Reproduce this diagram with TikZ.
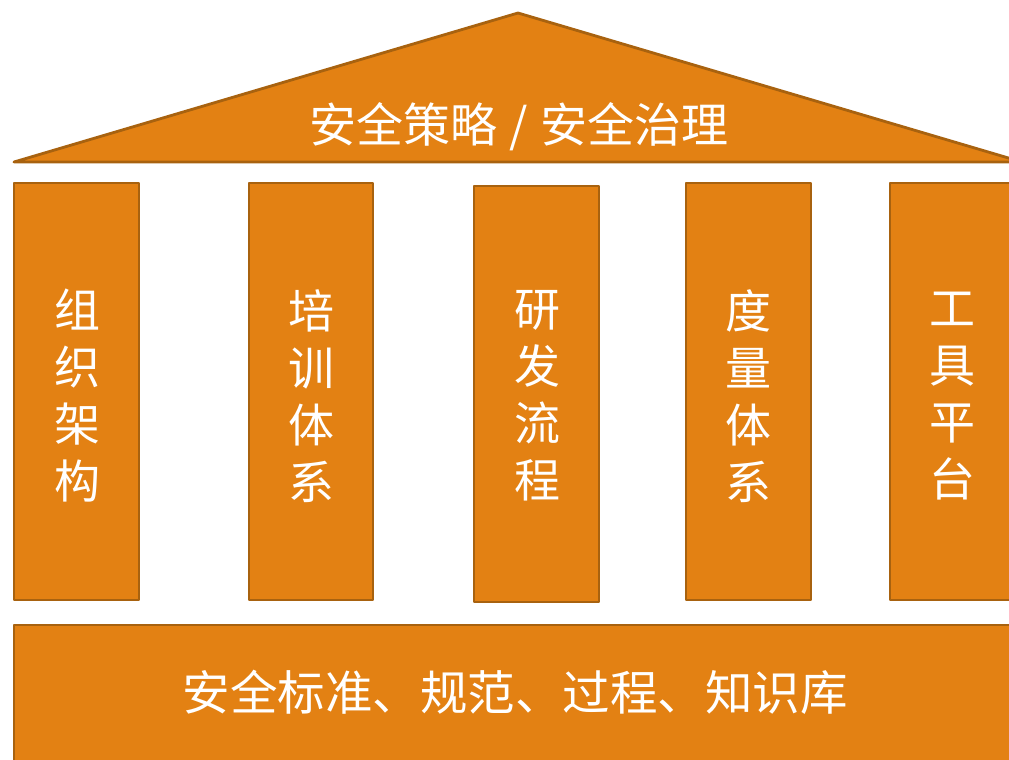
\documentclass[tikz,border=0pt]{standalone}
\usepackage{fontspec}
\newfontfamily\cjk{Noto Sans CJK SC}
\definecolor{fillor}{HTML}{E38113}
\definecolor{edgeor}{HTML}{A8620F}
\begin{document}
\begin{tikzpicture}[x=1pt,y=-1pt,
  part/.style={fill=fillor,draw=edgeor,line width=2.8pt,line join=round},
  lbl/.style={text=white,font=\cjk\fontsize{46}{57}\selectfont,inner sep=0pt,align=center}]
\useasboundingbox (0,0) rectangle (1009,760);
\begin{scope}
\clip (0,0) rectangle (1009,760);
\draw[part] (14,162) -- (518,13) -- (1022,162) -- cycle;
\draw[part] (14,183) rectangle (139,600);
\draw[part] (249,183) rectangle (373,600);
\draw[part] (474,186) rectangle (599,602);
\draw[part] (686,183) rectangle (811,600);
\draw[part] (890,183) rectangle (1015,600);
\draw[part] (14,625) rectangle (1030,780);
\end{scope}
\node[lbl,font=\cjk\fontsize{47}{57}\selectfont] (roof) at (519,127) {安全策略\hspace{12pt}/\hspace{12pt}安全治理};
\node[lbl] (p1) at (77,396) {组\\织\\架\\构};
\node[lbl] (p2) at (311,396) {培\\训\\体\\系};
\node[lbl] (p3) at (537,396) {研\\发\\流\\程};
\node[lbl] (p4) at (748,396) {度\\量\\体\\系};
\node[lbl] (p5) at (952,396) {工\\具\\平\\台};
\node[lbl,font=\cjk\fontsize{47.5}{57}\selectfont] (base) at (515,692) {安全标准、规范、过程、知识库};
\end{tikzpicture}
\end{document}
